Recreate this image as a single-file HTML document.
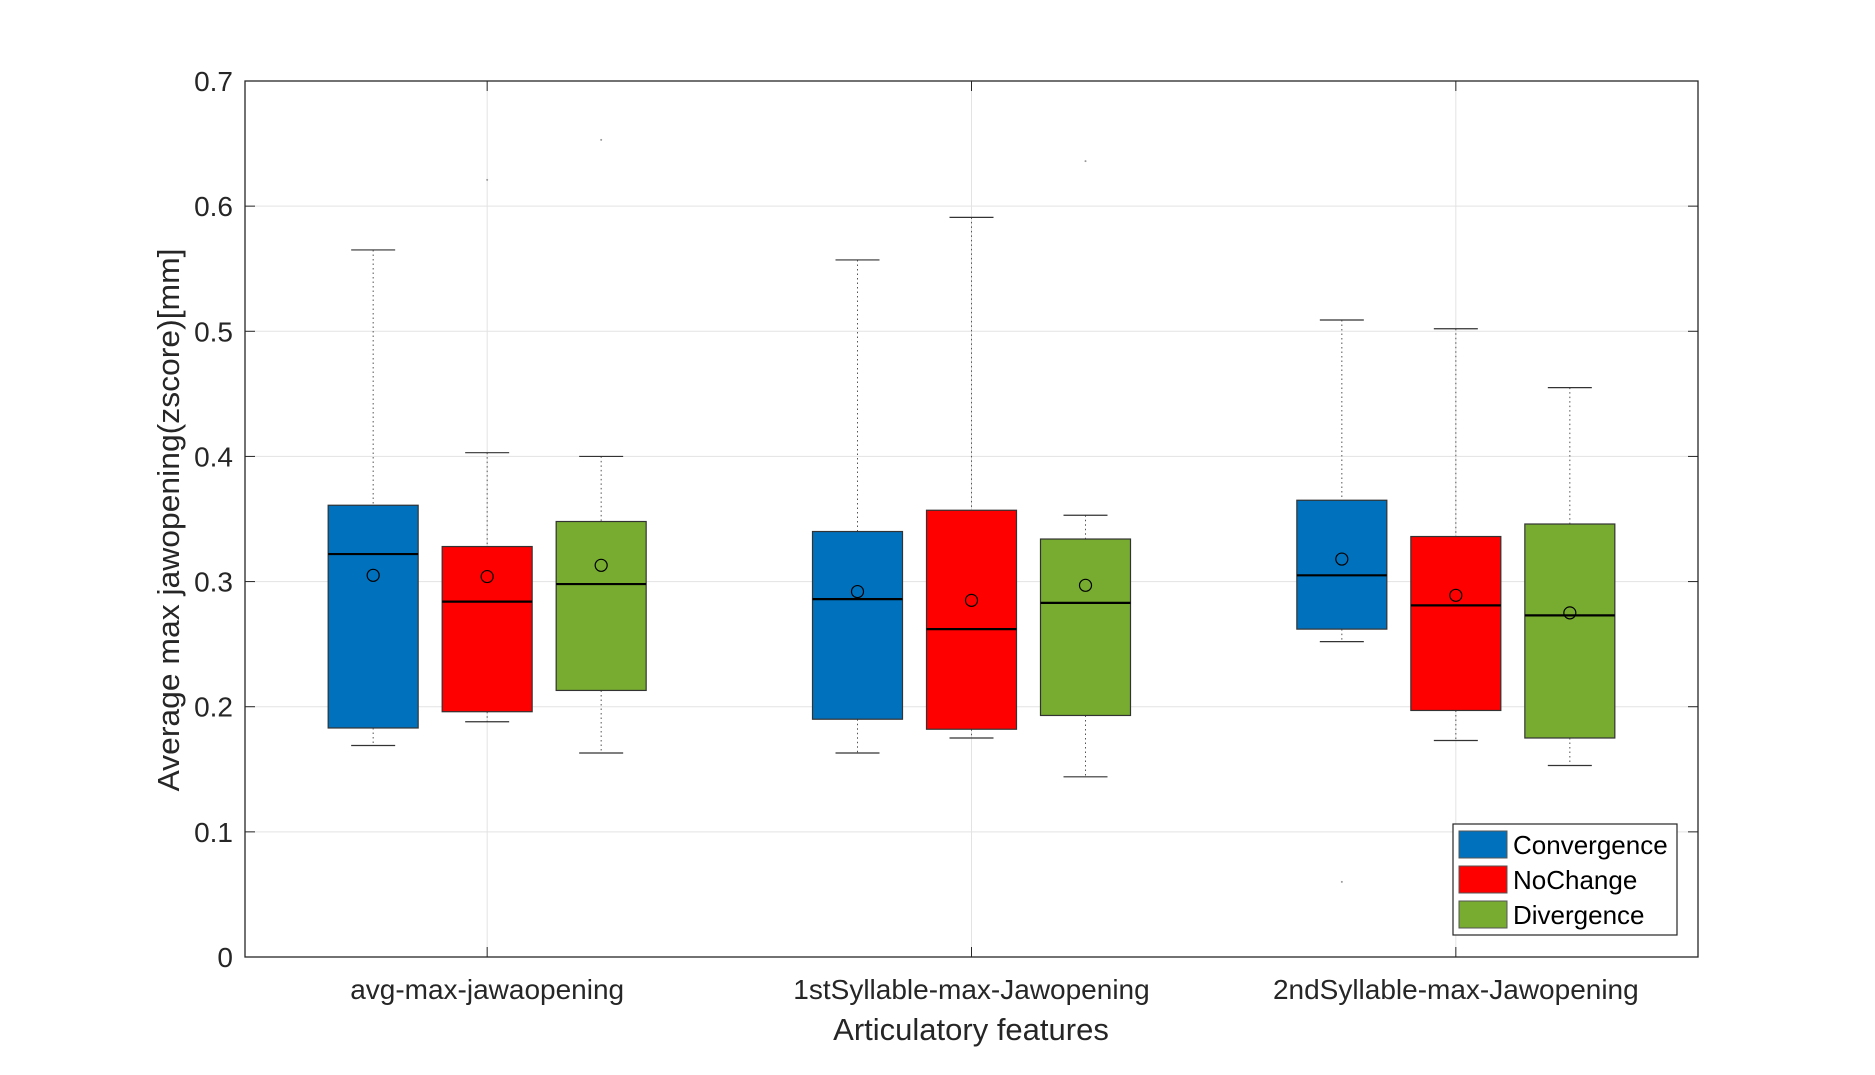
<!DOCTYPE html>
<html><head><meta charset="utf-8"><style>
body{margin:0;background:#fff;}
svg{display:block;font-family:"Liberation Sans",sans-serif;}
</style></head><body>
<svg id="chart" width="1875" height="1075">
<g id="grid"></g>
<g id="boxes"></g>
<g id="axes"></g>
<text x="179" y="520" transform="rotate(-90 179 520)" text-anchor="middle" font-size="31" textLength="543" lengthAdjust="spacingAndGlyphs" fill="#262626">Average max jawopening(zscore)[mm]</text>
<text x="971" y="1040" text-anchor="middle" font-size="31" fill="#262626">Articulatory features</text>
<g>
<rect x="1453" y="824" width="224" height="111" fill="#fff" stroke="#262626" stroke-width="1.2"/>
<rect x="1459" y="831" width="48" height="27" fill="#0072BD" stroke="#555"/>
<text x="1513" y="854" font-size="26" fill="#000">Convergence</text>
<rect x="1459" y="866" width="48" height="27" fill="#FF0000" stroke="#555"/>
<text x="1513" y="889" font-size="26" fill="#000">NoChange</text>
<rect x="1459" y="901" width="48" height="27" fill="#77AC30" stroke="#555"/>
<text x="1513" y="924" font-size="26" fill="#000">Divergence</text>
</g>
</svg>
<script>
const categories = ["avg-max-jawaopening","1stSyllable-max-Jawopening","2ndSyllable-max-Jawopening"];
const seriesNames = ["Convergence","NoChange","Divergence"];
const seriesColors = ["#0072BD","#FF0000","#77AC30"];
const whiskerHigh = [[0.565,0.403,0.400],[0.557,0.591,0.353],[0.509,0.502,0.455]];
const q3Values = [[0.361,0.328,0.348],[0.340,0.357,0.334],[0.365,0.336,0.346]];
const medianValues = [[0.322,0.284,0.298],[0.286,0.262,0.283],[0.305,0.281,0.273]];
const q1Values = [[0.183,0.196,0.213],[0.190,0.182,0.193],[0.262,0.197,0.175]];
const whiskerLow = [[0.169,0.188,0.163],[0.163,0.175,0.144],[0.252,0.173,0.153]];
const meanValues = [[0.305,0.304,0.313],[0.292,0.285,0.297],[0.318,0.289,0.275]];
const outlierValues = [[[],[0.621],[0.653]],[[],[],[0.636]],[[0.060],[],[]]];
const yTicks = [0,0.1,0.2,0.3,0.4,0.5,0.6,0.7];
const yTickLabels = ["0","0.1","0.2","0.3","0.4","0.5","0.6","0.7"];

const L=245,R=1698,T=81,B=957,yMax=0.7;
const NS="http://www.w3.org/2000/svg";
const y=v=>B-(v/yMax)*(B-T);
const xc=i=>L+(R-L)*(2*i+1)/(2*categories.length);
const off=114,bw=90,cw=44;
function mk(parent,tag,attrs){const e=document.createElementNS(NS,tag);for(const k in attrs)e.setAttribute(k,attrs[k]);parent.appendChild(e);return e;}
const grid=document.getElementById('grid'),boxes=document.getElementById('boxes'),axes=document.getElementById('axes');
yTicks.forEach((t,i)=>{
  const g=mk(grid,'line',{x1:L,x2:R,y1:y(t),y2:y(t),stroke:'#e3e3e3','stroke-width':1});
  
  
  const tl=mk(axes,'line',{x1:L,x2:L+10,y1:y(t),y2:y(t),stroke:'#262626'});
  
  
  const tr=mk(axes,'line',{x1:R-10,x2:R,y1:y(t),y2:y(t),stroke:'#262626'});
  
  
  const tx=mk(axes,'text',{x:L-12,y:y(t)+10,'text-anchor':'end','font-size':28,fill:'#262626'});
  tx.textContent=yTickLabels[i];
  
  
});
categories.forEach((c,i)=>{
  const g=mk(grid,'line',{x1:xc(i),x2:xc(i),y1:T,y2:B,stroke:'#e3e3e3','stroke-width':1});
  
  
  const tb=mk(axes,'line',{x1:xc(i),x2:xc(i),y1:B-10,y2:B,stroke:'#262626'});
  
  
  const tt=mk(axes,'line',{x1:xc(i),x2:xc(i),y1:T,y2:T+10,stroke:'#262626'});
  
  
  const tx=mk(axes,'text',{x:xc(i),y:999,'text-anchor':'middle','font-size':28,fill:'#262626'});
  tx.textContent=c;
  
  
  seriesNames.forEach((s,j)=>{
    const cx=xc(i)+(j-1)*off;
    const w1=mk(boxes,'line',{x1:cx,x2:cx,y1:y(whiskerHigh[i][j]),y2:y(q3Values[i][j]),stroke:'#555','stroke-dasharray':'1.5,3'});
    
    
    const w2=mk(boxes,'line',{x1:cx,x2:cx,y1:y(q1Values[i][j]),y2:y(whiskerLow[i][j]),stroke:'#555','stroke-dasharray':'1.5,3'});
    
    
    const c1=mk(boxes,'line',{x1:cx-cw/2,x2:cx+cw/2,y1:y(whiskerHigh[i][j]),y2:y(whiskerHigh[i][j]),stroke:'#333','stroke-width':1.2});
    
    
    const c2=mk(boxes,'line',{x1:cx-cw/2,x2:cx+cw/2,y1:y(whiskerLow[i][j]),y2:y(whiskerLow[i][j]),stroke:'#333','stroke-width':1.2});
    
    
    const b=mk(boxes,'rect',{x:cx-bw/2,y:y(q3Values[i][j]),width:bw,height:y(q1Values[i][j])-y(q3Values[i][j]),fill:seriesColors[j],stroke:'#333','stroke-width':1.2});
    
    
    const m=mk(boxes,'line',{x1:cx-bw/2,x2:cx+bw/2,y1:y(medianValues[i][j]),y2:y(medianValues[i][j]),stroke:'#000','stroke-width':2.2});
    
    
    const mc=mk(boxes,'circle',{cx:cx,cy:y(meanValues[i][j]),r:6,fill:'none',stroke:'#000','stroke-width':1.2});
    
    
    outlierValues[i][j].forEach(v=>{
      const o=mk(boxes,'circle',{cx:cx,cy:y(v),r:1,fill:'#999'});
      
      
    });
  });
});
const fr=mk(axes,'rect',{x:L,y:T,width:R-L,height:B-T,fill:'none',stroke:'#262626','stroke-width':1.3});


</script>
</body></html>
